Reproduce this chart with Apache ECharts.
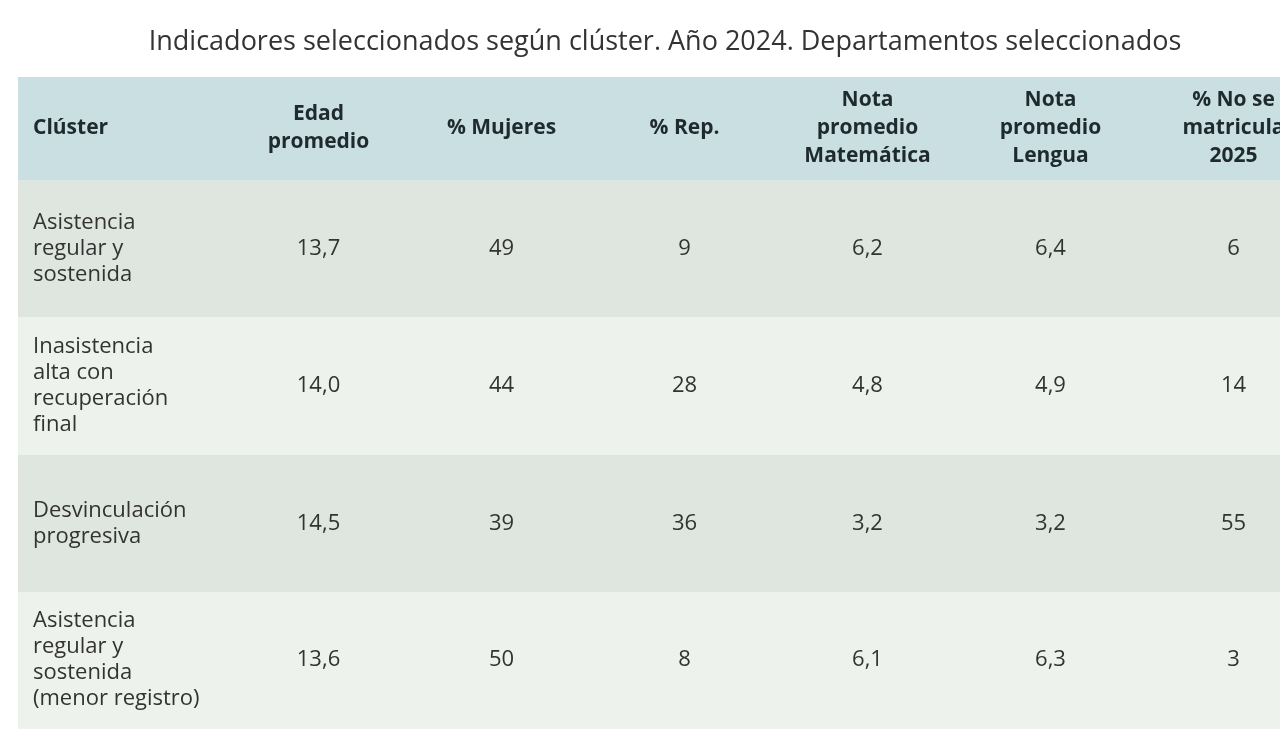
<!DOCTYPE html>
<html><head><meta charset="utf-8">
<script src="https://cdn.jsdelivr.net/npm/echarts@6/dist/echarts.min.js"></script>
<style>html,body{margin:0;background:#fff}#c{width:1280px;height:746px}</style>
</head><body><div id="c"></div>
<script>
var headers = ['Clúster', 'Edad\npromedio', '% Mujeres', '% Rep.', 'Nota\npromedio\nMatemática', 'Nota\npromedio\nLengua', '% No se\nmatricula\n2025'];
var clusters = ['Asistencia\nregular y\nsostenida', 'Inasistencia\nalta con\nrecuperación\nfinal', 'Desvinculación\nprogresiva', 'Asistencia\nregular y\nsostenida\n(menor registro)'];
var edad = ['13,7', '14,0', '14,5', '13,6'];
var mujeres = [49, 44, 39, 50];
var rep = [9, 28, 36, 8];
var notaMat = ['6,2', '4,8', '3,2', '6,1'];
var notaLen = ['6,4', '4,9', '3,2', '6,3'];
var noMatricula = [6, 14, 55, 3];

// layout: column and row edges in axis units (last column runs off the page)
var colEdges = [0, 209, 392, 575, 758, 941, 1124, 1307];
var rowEdges = [0, 103, 240, 378, 515, 651];
var rowColors = ['#c9dfe2', '#dfe6df', '#eef2ec', '#dfe6df', '#eef2ec'];

var cells = [];
headers.forEach(function (h, c) { cells.push([c, 0, h]); });
for (var r = 0; r < clusters.length; r++) {
  var vals = [clusters[r], edad[r], mujeres[r], rep[r], notaMat[r], notaLen[r], noMatricula[r]];
  vals.forEach(function (v, c) { cells.push([c, r + 1, String(v)]); });
}

var chart = echarts.init(document.getElementById('c'));
chart.setOption({
  animation: false,
  title: {
    text: 'Indicadores seleccionados según clúster. Año 2024. Departamentos seleccionados',
    left: 660, top: 24, textAlign: 'center',
    textStyle: { fontFamily: 'Open Sans', fontSize: 27, fontWeight: 'normal', color: '#333' }
  },
  grid: { left: 18, top: 77, width: 1262, height: 651 },
  xAxis: { type: 'value', min: 0, max: 1262, show: false },
  yAxis: { type: 'value', min: 0, max: 651, inverse: true, show: false },
  series: [{
    type: 'custom',
    clip: false,
    data: cells,
    renderItem: function (params, api) {
      var c = api.value(0), r = api.value(1);
      var txt = cells[params.dataIndex][2];
      var p0 = api.coord([colEdges[c], rowEdges[r]]);
      var p1 = api.coord([colEdges[c + 1], rowEdges[r + 1]]);
      var header = r === 0;
      var left = c === 0;
      return {
        type: 'group',
        children: [{
          type: 'rect',
          shape: { x: p0[0], y: p0[1], width: p1[0] - p0[0] + 1, height: p1[1] - p0[1] + 1 },
          style: { fill: rowColors[r] }
        }, {
          type: 'text',
          style: {
            x: left ? p0[0] + 15 : (p0[0] + p1[0]) / 2,
            y: (p0[1] + p1[1]) / 2,
            text: txt,
            align: left ? 'left' : 'center',
            verticalAlign: 'middle',
            fontFamily: 'Open Sans',
            fontSize: header ? 21 : 22,
            lineHeight: header ? 28 : 26,
            fontWeight: header ? 'bold' : 'normal',
            fill: header ? '#1f2a2e' : '#333'
          }
        }]
      };
    }
  }]
});
</script></body></html>
